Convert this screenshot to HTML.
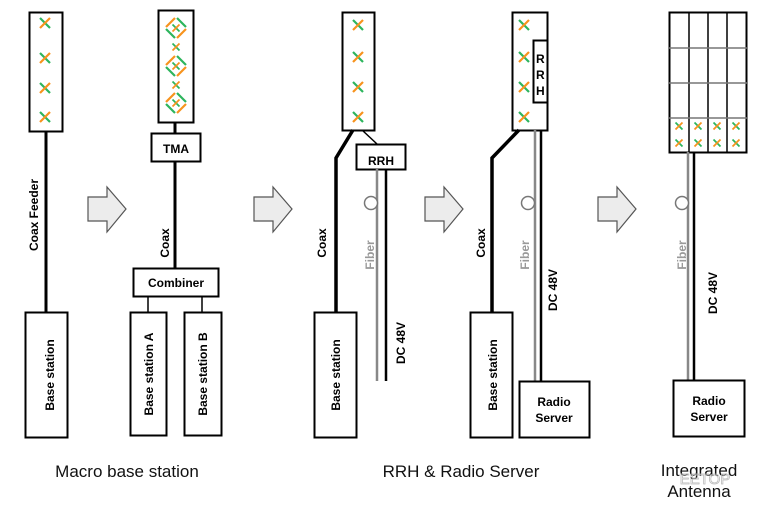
<!DOCTYPE html>
<html><head><meta charset="utf-8"><style>
html,body{margin:0;padding:0;background:#fff;}
svg{display:block;}
.b{font-family:"Liberation Sans",sans-serif;font-weight:bold;font-size:12px;fill:#000;}
.c{font-family:"Liberation Sans",sans-serif;font-size:17px;fill:#111;}
</style></head><body>
<svg width="762" height="511" viewBox="0 0 762 511" xmlns="http://www.w3.org/2000/svg">
<defs>
<g id="x"><line x1="-5" y1="-5" x2="5" y2="5" stroke="#2db55d" stroke-width="2.2"/><line x1="-5" y1="5" x2="5" y2="-5" stroke="#f7931e" stroke-width="2.2"/></g>
<g id="xs"><line x1="-3.5" y1="-3.5" x2="3.5" y2="3.5" stroke="#2db55d" stroke-width="1.8"/><line x1="-3.5" y1="3.5" x2="3.5" y2="-3.5" stroke="#f7931e" stroke-width="1.8"/></g>
<g id="dm">
<line x1="-10" y1="-1" x2="-1" y2="-10" stroke="#f7931e" stroke-width="2.2"/>
<line x1="1" y1="-10" x2="10" y2="-1" stroke="#2db55d" stroke-width="2.2"/>
<line x1="-10" y1="1" x2="-1" y2="10" stroke="#2db55d" stroke-width="2.2"/>
<line x1="1" y1="10" x2="10" y2="1" stroke="#f7931e" stroke-width="2.2"/>
<use href="#xs"/>
</g>
<path id="ar" d="M0,10 H19 V0 L38,22 L19,45 V34 H0 Z" fill="#ececec" stroke="#555" stroke-width="1.2"/>
</defs>
<g fill="none" stroke="#000">
<rect x="29.5" y="12.5" width="33" height="119" fill="#fff" stroke-width="2"/>
<line x1="46" y1="131" x2="46" y2="312" stroke-width="3"/>
<rect x="25.5" y="312.5" width="42" height="125" stroke-width="2"/>
<rect x="158.5" y="10.5" width="35" height="112" stroke-width="2"/>
<line x1="175" y1="122" x2="175" y2="133" stroke-width="3"/>
<rect x="151.5" y="133.5" width="49" height="28" stroke-width="2"/>
<line x1="175" y1="162" x2="175" y2="268" stroke-width="3"/>
<rect x="133.5" y="268.5" width="85" height="28" stroke-width="2"/>
<line x1="148" y1="296" x2="148" y2="312" stroke-width="1.5"/>
<line x1="202" y1="296" x2="202" y2="312" stroke-width="1.5"/>
<rect x="130.5" y="312.5" width="36" height="123" stroke-width="2"/>
<rect x="184.5" y="312.5" width="37" height="123" stroke-width="2"/>
<rect x="342.5" y="12.5" width="32" height="118" stroke-width="2"/>
<polyline points="353,130 336,158 336,312" stroke-width="3.5"/>
<line x1="362" y1="130" x2="377" y2="144" stroke-width="1.5"/>
<rect x="356.5" y="144.5" width="49" height="25" stroke-width="2"/>
<line x1="377" y1="169" x2="377" y2="381" stroke="#888" stroke-width="2.5"/>
<line x1="386" y1="169" x2="386" y2="381" stroke-width="2.5"/>
<circle cx="371" cy="203" r="6.5" stroke="#777" stroke-width="1.5" fill="#fff"/>
<rect x="314.5" y="312.5" width="42" height="125" stroke-width="2"/>
<rect x="512.5" y="12.5" width="35" height="118" stroke-width="2"/>
<rect x="533.5" y="40.5" width="14" height="62" stroke-width="2" fill="#fff"/>
<polyline points="519,130 492,158 492,312" stroke-width="3.5"/>
<line x1="535" y1="130" x2="535" y2="381" stroke="#888" stroke-width="2.5"/>
<line x1="541" y1="130" x2="541" y2="381" stroke-width="2.5"/>
<circle cx="528" cy="203" r="6.5" stroke="#777" stroke-width="1.5" fill="#fff"/>
<rect x="470.5" y="312.5" width="42" height="125" stroke-width="2"/>
<rect x="519.5" y="381.5" width="70" height="56" stroke-width="2"/>
<rect x="669.5" y="12.5" width="77" height="140" stroke-width="2"/>
<line x1="689" y1="12" x2="689" y2="152" stroke-width="1.5"/>
<line x1="708" y1="12" x2="708" y2="152" stroke-width="1.5"/>
<line x1="727" y1="12" x2="727" y2="152" stroke-width="1.5"/>
<line x1="669" y1="48" x2="747" y2="48" stroke="#777" stroke-width="1.5"/>
<line x1="669" y1="83" x2="747" y2="83" stroke="#777" stroke-width="1.5"/>
<line x1="669" y1="118" x2="747" y2="118" stroke="#777" stroke-width="1.5"/>
<line x1="688" y1="152" x2="688" y2="380" stroke="#888" stroke-width="2.5"/>
<line x1="694" y1="152" x2="694" y2="380" stroke-width="2.5"/>
<circle cx="682" cy="203" r="6.5" stroke="#777" stroke-width="1.5" fill="#fff"/>
<rect x="673.5" y="380.5" width="71" height="56" stroke-width="2"/>
</g>
<use href="#x" x="45" y="23"/><use href="#x" x="45" y="58"/><use href="#x" x="45" y="88"/><use href="#x" x="45" y="117"/>
<use href="#dm" x="176" y="28"/><use href="#xs" x="176" y="47"/><use href="#dm" x="176" y="66"/><use href="#xs" x="176" y="85"/><use href="#dm" x="176" y="103"/>
<use href="#x" x="358" y="25"/><use href="#x" x="358" y="57"/><use href="#x" x="358" y="87"/><use href="#x" x="358" y="117"/>
<use href="#x" x="524" y="25"/><use href="#x" x="524" y="57"/><use href="#x" x="524" y="87"/><use href="#x" x="524" y="117"/>
<use href="#xs" x="679" y="126"/><use href="#xs" x="698" y="126"/><use href="#xs" x="717" y="126"/><use href="#xs" x="736" y="126"/>
<use href="#xs" x="679" y="143"/><use href="#xs" x="698" y="143"/><use href="#xs" x="717" y="143"/><use href="#xs" x="736" y="143"/>
<use href="#ar" x="88" y="187"/><use href="#ar" x="254" y="187"/><use href="#ar" x="425" y="187"/><use href="#ar" x="598" y="187"/>
<text class="b" text-anchor="middle" transform="translate(38,215) rotate(-90)">Coax Feeder</text>
<text class="b" text-anchor="middle" transform="translate(54,375) rotate(-90)">Base station</text>
<text class="b" text-anchor="middle" x="176" y="153" font-size="13">TMA</text>
<text class="b" text-anchor="middle" transform="translate(169,243) rotate(-90)">Coax</text>
<text class="b" text-anchor="middle" x="176" y="287" font-size="12.5">Combiner</text>
<text class="b" text-anchor="middle" transform="translate(153,374) rotate(-90)">Base station A</text>
<text class="b" text-anchor="middle" transform="translate(207,374) rotate(-90)">Base station B</text>
<text class="b" text-anchor="middle" x="381" y="165" font-size="11">RRH</text>
<text class="b" text-anchor="middle" transform="translate(326,243) rotate(-90)">Coax</text>
<text class="b" text-anchor="middle" transform="translate(374,255) rotate(-90)" style="fill:#999">Fiber</text>
<text class="b" text-anchor="middle" transform="translate(405,343) rotate(-90)">DC 48V</text>
<text class="b" text-anchor="middle" transform="translate(340,375) rotate(-90)">Base station</text>
<text class="b" x="536" y="63">R</text>
<text class="b" x="536" y="79">R</text>
<text class="b" x="536" y="95">H</text>
<text class="b" text-anchor="middle" transform="translate(485,243) rotate(-90)">Coax</text>
<text class="b" text-anchor="middle" transform="translate(529,255) rotate(-90)" style="fill:#999">Fiber</text>
<text class="b" text-anchor="middle" transform="translate(557,290) rotate(-90)">DC 48V</text>
<text class="b" text-anchor="middle" transform="translate(497,375) rotate(-90)">Base station</text>
<text class="b" text-anchor="middle" x="554" y="406">Radio</text>
<text class="b" text-anchor="middle" x="554" y="422">Server</text>
<text class="b" text-anchor="middle" transform="translate(686,255) rotate(-90)" style="fill:#999">Fiber</text>
<text class="b" text-anchor="middle" transform="translate(717,293) rotate(-90)">DC 48V</text>
<text class="b" text-anchor="middle" x="709" y="405">Radio</text>
<text class="b" text-anchor="middle" x="709" y="421">Server</text>
<text class="c" text-anchor="middle" x="127" y="477">Macro base station</text>
<text class="c" text-anchor="middle" x="461" y="477">RRH &amp; Radio Server</text>
<text class="c" text-anchor="middle" x="699" y="476">Integrated</text>
<text class="c" text-anchor="middle" x="699" y="497">Antenna</text>
<text x="705" y="484" text-anchor="middle" font-family="Liberation Sans,sans-serif" font-size="15" fill="none" stroke="#bbb" stroke-width="0.8">EETOP</text>
</svg>
</body></html>
